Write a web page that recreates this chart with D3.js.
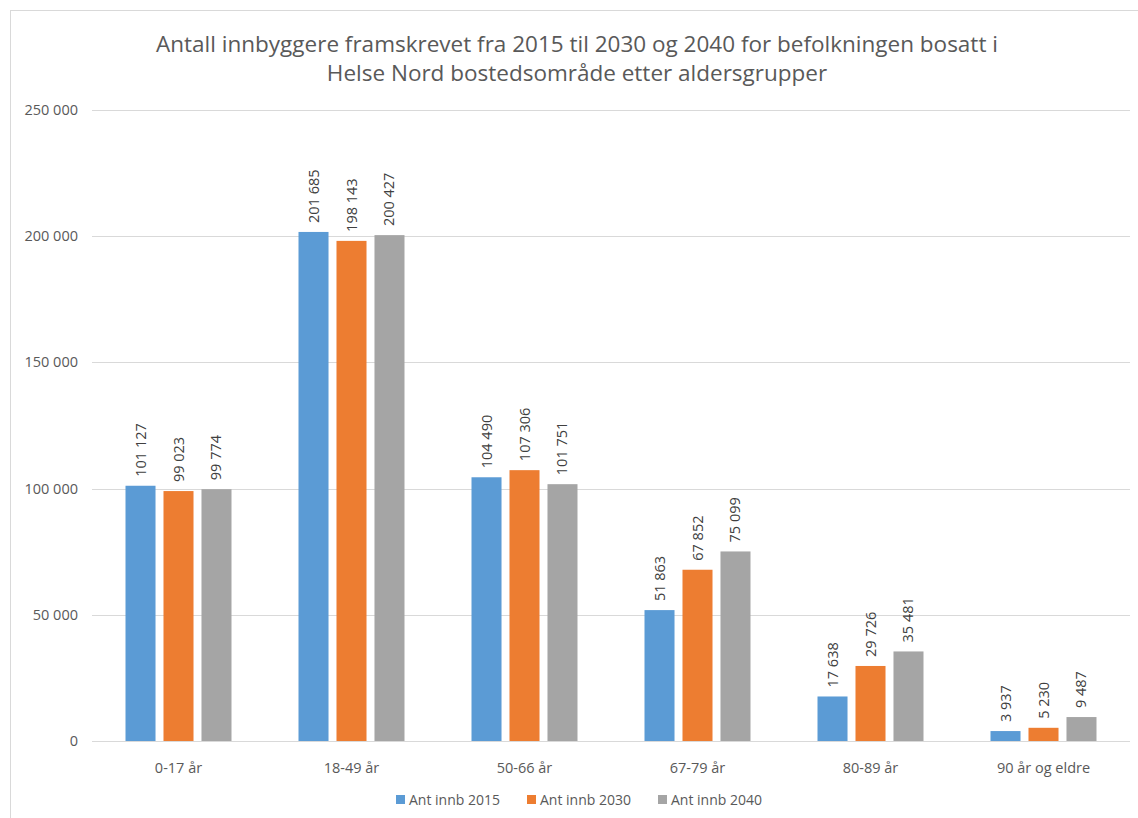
<html><head>
<title>Helse Nord</title>
<script src="https://d3js.org/d3.v7.min.js"></script>
<style>
  body { margin: 0; background: white; }
  text { font-family: "Open Sans", "Liberation Sans", sans-serif; }
</style>
</head>
<body>
<svg id="chart" width="1138" height="818"></svg>
<script>
const categories = ["0-17 år", "18-49 år", "50-66 år", "67-79 år", "80-89 år", "90 år og eldre"];
const seriesNames = ["Ant innb 2015", "Ant innb 2030", "Ant innb 2040"];
const values2015 = [101127, 201685, 104490, 51863, 17638, 3937];
const values2030 = [99023, 198143, 107306, 67852, 29726, 5230];
const values2040 = [99774, 200427, 101751, 75099, 35481, 9487];
const yTicks = [0, 50000, 100000, 150000, 200000, 250000];
const colors = ["#5b9bd5", "#ed7d31", "#a5a5a5"];

const series = [values2015, values2030, values2040];
const svg = d3.select("svg#chart");

// chart frame
svg.append("rect")
  .attr("x", 10.5).attr("y", 10.5)
  .attr("width", 1140).attr("height", 830)
  .attr("fill", "white").attr("stroke", "#d9d9d9").attr("stroke-width", 1);

const margin = { left: 92, right: 1130, top: 110, bottom: 741 };

const x = d3.scaleBand().domain(categories).range([margin.left, margin.right]);
const inner = d3.scaleBand().domain(d3.range(3)).range([33.5, x.bandwidth() - 33.5]).paddingInner(0.21);
const y = d3.scaleLinear().domain([0, 250000]).range([margin.bottom, margin.top]);

const loc = d3.formatLocale({ decimal: ",", thousands: "\u00a0", grouping: [3], currency: ["", ""] });
const fmt = loc.format(",d");

// gridlines
svg.append("g").selectAll("line").data(yTicks).join("line")
  .attr("x1", margin.left).attr("x2", margin.right)
  .attr("y1", d => Math.round(y(d)) + 0.5).attr("y2", d => Math.round(y(d)) + 0.5)
  .attr("stroke", "#d9d9d9").attr("stroke-width", 1);

// y tick labels
svg.append("g").selectAll("text").data(yTicks).join("text")
  .attr("x", 78).attr("y", d => y(d) + 5)
  .attr("text-anchor", "end")
  .attr("font-size", 14.5).attr("fill", "#595959")
  .text(d => fmt(d));

// bars
const groups = svg.append("g").selectAll("g").data(categories).join("g")
  .attr("transform", d => `translate(${x(d)},0)`);

groups.selectAll("rect").data((c, i) => series.map((s, k) => ({ k, v: s[i] }))).join("rect")
  .attr("x", d => inner(d.k))
  .attr("width", inner.bandwidth())
  .attr("y", d => y(d.v))
  .attr("height", d => y(0) - y(d.v))
  .attr("fill", d => colors[d.k]);

// data labels
groups.selectAll("text").data((c, i) => series.map((s, k) => ({ k, v: s[i] }))).join("text")
  .attr("transform", d => `translate(${inner(d.k) + inner.bandwidth() / 2 + 5},${y(d.v) - 9}) rotate(-90)`)
  .attr("font-size", 14.5).attr("fill", "#404040")
  .text(d => fmt(d.v));

// x labels
svg.append("g").selectAll("text").data(categories).join("text")
  .attr("x", d => x(d) + x.bandwidth() / 2).attr("y", 773)
  .attr("text-anchor", "middle")
  .attr("font-size", 14.5).attr("fill", "#595959")
  .text(d => d);

// title
const title = svg.append("text").attr("text-anchor", "middle")
  .attr("font-size", 22.5).attr("fill", "#595959");
title.append("tspan").attr("x", 577).attr("y", 52)
  .text("Antall innbyggere framskrevet fra 2015 til 2030 og 2040 for befolkningen bosatt i");
title.append("tspan").attr("x", 577).attr("y", 81)
  .text("Helse Nord bostedsområde etter aldersgrupper");

// legend
const legendX = [396, 527, 658];
const legend = svg.append("g").selectAll("g").data(seriesNames).join("g")
  .attr("transform", (d, i) => `translate(${legendX[i]},795)`);
legend.append("rect").attr("width", 9).attr("height", 9).attr("fill", (d, i) => colors[i]);
legend.append("text").attr("x", 13).attr("y", 10)
  .attr("font-size", 14).attr("fill", "#595959").text(d => d);
</script>
</body>
</html>
